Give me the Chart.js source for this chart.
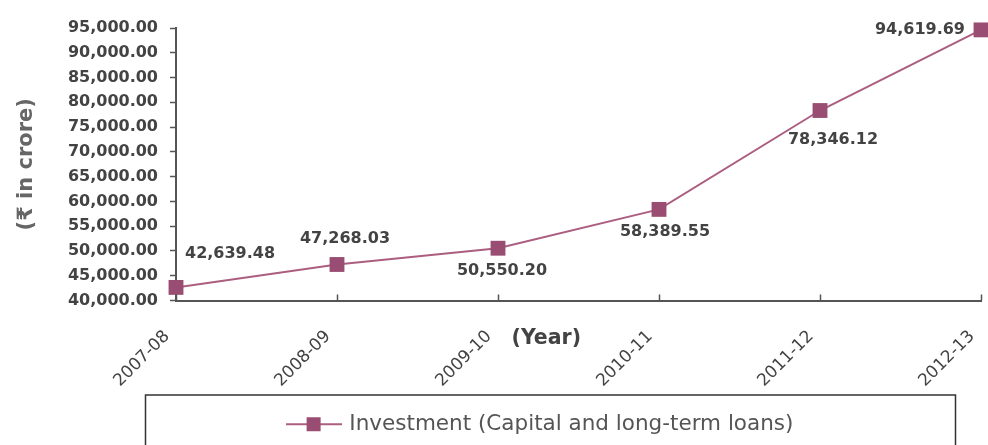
<!DOCTYPE html>
<html>
<head>
<meta charset="utf-8">
<script src="https://cdn.jsdelivr.net/npm/chart.js@4/dist/chart.umd.min.js"></script>
<style>
  html, body { margin: 0; padding: 0; background: #ffffff; }
  #wrap { width: 988px; height: 445px; position: relative; }
</style>
</head>
<body>
<div id="wrap"><canvas id="c" width="988" height="445"></canvas></div>
<script>
// ---- Data ----
const categories = ['2007-08', '2008-09', '2009-10', '2010-11', '2011-12', '2012-13'];
const investmentValues = [42639.48, 47268.03, 50550.20, 58389.55, 78346.12, 94619.69];
const seriesName = 'Investment (Capital and long-term loans)';
const yAxisTitle = '(\u20B9 in crore)';
const xAxisTitle = '(Year)';
const yTickMin = 40000;
const yTickMax = 95000;
const yTickStep = 5000;

// ---- Styles ----
const lineColor = '#ac5e80';
const markerColor = '#9a4d72';
const axisColor = '#555555';
const textDark = '#434343';
// label placement per point (style only)
const labelPlacement = [
  { align: 'left',   dx: 9,   dy: -34 },
  { align: 'center', dx: 8,   dy: -26 },
  { align: 'center', dx: 4,   dy: 23 },
  { align: 'center', dx: 6,   dy: 22 },
  { align: 'center', dx: 13,  dy: 29 },
  { align: 'right',  dx: -16, dy: 0 }
];

const fmt = v => v.toLocaleString('en-US', { minimumFractionDigits: 2, maximumFractionDigits: 2 });

// legend symbol: line with square marker
const legendSymbol = document.createElement('canvas');
legendSymbol.width = 56; legendSymbol.height = 16;
(function () {
  const g = legendSymbol.getContext('2d');
  g.strokeStyle = lineColor; g.lineWidth = 2;
  g.beginPath(); g.moveTo(0, 8); g.lineTo(56, 8); g.stroke();
  g.fillStyle = markerColor; g.fillRect(21, 1, 14, 14);
})();

const decorPlugin = {
  id: 'decor',
  beforeDraw(chart) {
    // centre the legend row under the plot like the original
    const lg = chart.legend;
    lg.left = 101;
    lg.right = chart.chartArea.right;
  },
  afterDatasetsDraw(chart) {
    const ctx = chart.ctx;
    const meta = chart.getDatasetMeta(0);
    ctx.save();
    ctx.font = 'bold 16px "DejaVu Sans", sans-serif';
    ctx.fillStyle = textDark;
    ctx.textBaseline = 'middle';
    meta.data.forEach((pt, i) => {
      const p = labelPlacement[i];
      ctx.textAlign = p.align;
      ctx.fillText(fmt(investmentValues[i]), pt.x + p.dx, pt.y + p.dy);
    });
    ctx.restore();
  },
  afterDraw(chart) {
    const ctx = chart.ctx;
    const xs = chart.scales.x;
    const area = chart.chartArea;
    ctx.save();
    // inward tick marks on the x axis
    ctx.strokeStyle = axisColor;
    ctx.lineWidth = 1.5;
    xs.ticks.forEach((t, i) => {
      const px = Math.round(xs.getPixelForTick(i)) + 0.5;
      ctx.beginPath(); ctx.moveTo(px, area.bottom); ctx.lineTo(px, area.bottom - 6); ctx.stroke();
    });
    // x axis title
    ctx.font = 'bold 20.5px "DejaVu Sans", sans-serif';
    ctx.fillStyle = textDark;
    ctx.textAlign = 'center';
    ctx.textBaseline = 'middle';
    ctx.fillText(xAxisTitle, area.left + (area.right - area.left) * 0.46, area.bottom + 38);
    // legend frame
    const lg = chart.legend;
    ctx.strokeStyle = '#333333';
    ctx.lineWidth = 1.5;
    ctx.strokeRect(145.5, lg.top - 8.5, 810, 80);
    ctx.restore();
  }
};

new Chart(document.getElementById('c'), {
  type: 'line',
  data: {
    labels: categories,
    datasets: [{
      label: seriesName,
      data: investmentValues,
      borderColor: lineColor,
      backgroundColor: markerColor,
      borderWidth: 2,
      pointStyle: 'rect',
      pointRadius: 10.5,
      pointHoverRadius: 10.5,
      pointBackgroundColor: markerColor,
      pointBorderColor: markerColor,
      pointBorderWidth: 0,
      tension: 0,
      clip: false
    }]
  },
  options: {
    responsive: false,
    animation: false,
    devicePixelRatio: 1,
    layout: { autoPadding: false, padding: { left: 0, right: 7, top: 28, bottom: 0 } },
    plugins: {
      tooltip: { enabled: false },
      legend: {
        position: 'bottom',
        labels: {
          usePointStyle: true,
          pointStyle: legendSymbol,
          pointStyleWidth: 50,
          color: '#555555',
          font: { family: '"DejaVu Sans", sans-serif', size: 21.5 },
          padding: 10
        }
      }
    },
    scales: {
      x: {
        type: 'category',
        offset: false,
        grid: { display: true, drawOnChartArea: false, drawTicks: false },
        border: { display: true, color: axisColor, width: 2 },
        ticks: {
          color: textDark,
          font: { family: '"DejaVu Sans", sans-serif', size: 17 },
          minRotation: 45,
          maxRotation: 45,
          padding: 26,
          labelOffset: -9,
          autoSkip: false
        },
        afterFit(scale) {
          scale.height = 103;
          scale.paddingLeft = 0;
          scale.paddingRight = 0;
        }
      },
      y: {
        min: yTickMin,
        max: yTickMax,
        grid: { display: true, drawOnChartArea: false, drawTicks: true, tickLength: 6, color: axisColor, tickWidth: 1.5 },
        border: { display: true, color: axisColor, width: 2 },
        ticks: {
          stepSize: yTickStep,
          color: textDark,
          padding: 12,
          font: { family: '"DejaVu Sans", sans-serif', size: 16, weight: 'bold' },
          callback: v => fmt(v)
        },
        title: {
          display: true,
          text: yAxisTitle,
          color: '#666666',
          font: { family: '"DejaVu Sans", "Noto Sans", sans-serif', size: 21, weight: 'bold' },
          padding: { top: 14, bottom: 0 }
        },
        afterFit(scale) { scale.width = 176; }
      }
    }
  },
  plugins: [decorPlugin]
});
</script>
</body>
</html>
